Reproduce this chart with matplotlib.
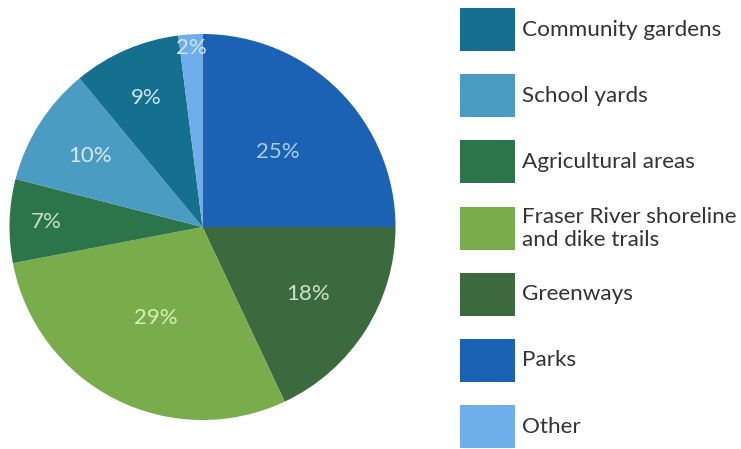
import matplotlib
matplotlib.use("Agg")
import matplotlib.pyplot as plt
from matplotlib.patches import Rectangle
import numpy as np

# Datos del gráfico (en sentido horario desde arriba)
pie_labels = ["Parks", "Greenways", "Fraser River shoreline\nand dike trails",
              "Agricultural areas", "School yards", "Community gardens", "Other"]
pie_values = [25, 18, 29, 7, 10, 9, 2]
pie_colors = ["#1c62b4", "#3b6a3e", "#79ad4c", "#2c7449", "#4b9cc2", "#15708f", "#6eaeea"]
pct_colors = ["#a9cff2", "#cfe3c6", "#d9f0b4", "#c6e3cf", "#d4ecf6", "#c8e6f0", "#cfe6fb"]
pct_dist = [0.55, 0.65, 0.53, 0.81, 0.69, 0.73, 0.93]

# Orden de la leyenda
legend_labels = ["Community gardens", "School yards", "Agricultural areas",
                 "Fraser River shoreline\nand dike trails", "Greenways", "Parks", "Other"]

W, H = 741, 449
fig = plt.figure(figsize=(W / 100, H / 100), dpi=100)

# Pastel
cx, cy, r = 202.5, 227, 193
ax = fig.add_axes([(cx - r) / W, (H - cy - r) / H, 2 * r / W, 2 * r / H])
wedges, _ = ax.pie(pie_values, colors=pie_colors, startangle=90, counterclock=False,
                   radius=1, wedgeprops=dict(linewidth=0))
ax.set_xlim(-1, 1)
ax.set_ylim(-1, 1)
ax.set_aspect("equal")
ax.axis("off")

for w, v, c, d in zip(wedges, pie_values, pct_colors, pct_dist):
    ang = np.deg2rad((w.theta1 + w.theta2) / 2)
    ax.text(d * np.cos(ang), d * np.sin(ang), f"{v}%", ha="center", va="center",
            fontsize=16, color=c, family="Lato")

# Leyenda
lax = fig.add_axes([0, 0, 1, 1])
lax.set_xlim(0, W)
lax.set_ylim(H, 0)
lax.axis("off")
color_of = dict(zip(pie_labels, pie_colors))
for i, lab in enumerate(legend_labels):
    y0 = 8 + i * 66.2
    lax.add_patch(Rectangle((460, y0), 55, 43, color=color_of[lab], lw=0))
    lax.text(522, y0 + 21.5, lab, ha="left", va="center", fontsize=16.2,
             color="#333333", family="Lato", linespacing=1.2)

fig.savefig("out.png", dpi=100)
